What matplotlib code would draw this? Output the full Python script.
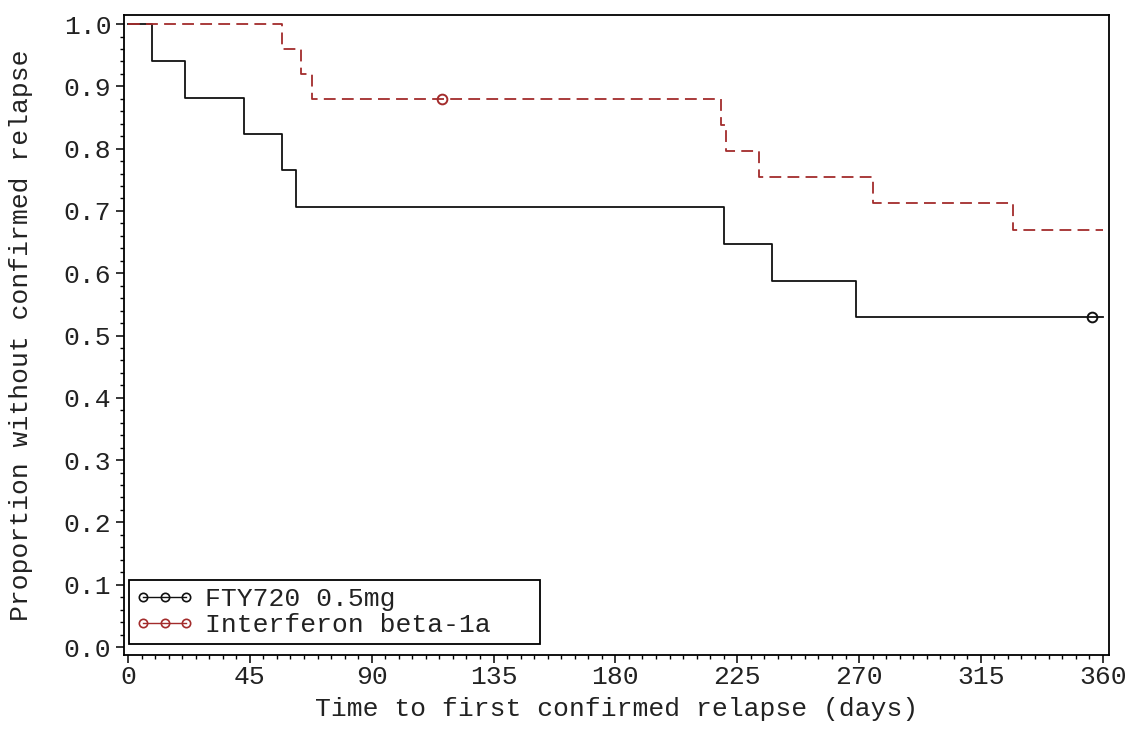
import matplotlib
matplotlib.use("Agg")
import matplotlib.pyplot as plt
from matplotlib.lines import Line2D
from matplotlib.ticker import MultipleLocator, FormatStrFormatter

# Kaplan-Meier steps (days, proportion)
fty_days = [0, 9, 21, 43, 57, 62, 220, 238, 269, 360]
fty_surv = [1.0, 0.941, 0.882, 0.824, 0.765, 0.706, 0.647, 0.588, 0.529, 0.529]
fty_cens_days = [356]
fty_cens_surv = [0.529]

ifn_days = [0, 57, 64, 68, 219, 221, 233, 275, 327, 360]
ifn_surv = [1.0, 0.96, 0.92, 0.88, 0.838, 0.796, 0.754, 0.712, 0.670, 0.670]
ifn_cens_days = [116]
ifn_cens_surv = [0.88]

labels = ["FTY720 0.5mg", "Interferon beta-1a"]
xticks = [0, 45, 90, 135, 180, 225, 270, 315, 360]

plt.rcParams['font.family'] = ['Liberation Mono', 'DejaVu Sans Mono']
plt.rcParams['font.size'] = 19
plt.rcParams['lines.scale_dashes'] = False

black = '#111111'
red = '#a32c2c'
txt = '#222222'

fig = plt.figure(figsize=(11.31, 7.40), dpi=100)
ax = fig.add_axes([0.1096, 0.1149, 0.8709, 0.8652])

ax.step(fty_days, fty_surv, where='post', color=black, lw=1.3)
ax.plot(fty_cens_days, fty_cens_surv, 'o', mfc='none', mec=black, ms=7, mew=1.4)

ax.step(ifn_days, ifn_surv, where='post', color=red, lw=1.3, dashes=(8.5, 4.5))
ax.plot(ifn_cens_days, ifn_cens_surv, 'o', mfc='none', mec=red, ms=7, mew=1.4)

ax.set_xlim(-1.5, 362.3)
ax.set_ylim(-0.0128, 1.015)
ax.set_xticks(xticks)
ax.xaxis.set_minor_locator(MultipleLocator(5))
ax.yaxis.set_major_locator(MultipleLocator(0.1))
ax.yaxis.set_minor_locator(MultipleLocator(0.02))
ax.yaxis.set_major_formatter(FormatStrFormatter('%.1f'))
ax.tick_params(which='major', length=6, width=1.1, direction='out', pad=3,
               labelcolor=txt)
ax.tick_params(which='minor', length=3, width=1.0, direction='out')
ax.tick_params(axis='x', pad=1)
for s in ax.spines.values():
    s.set_linewidth(1.3)

ax.set_xlabel("Time to first confirmed relapse (days)", labelpad=6, color=txt)
ax.set_ylabel("Proportion without confirmed relapse", labelpad=22, color=txt)

handles = [
    Line2D([], [], color=black, lw=1.0, marker='o', mfc='none', mec=black, ms=6, mew=1.2),
    Line2D([], [], color=red, lw=1.0, marker='o', mfc='none', mec=red, ms=6, mew=1.2),
]
leg = ax.legend(handles, labels, loc='lower left', bbox_to_anchor=(0.005, 0.017, 0.417, 0),
                mode='expand', borderaxespad=0, numpoints=3, handlelength=2.2,
                handletextpad=0.45, labelspacing=0.1, borderpad=0.25, fancybox=False,
                edgecolor='black', framealpha=1)
leg.get_frame().set_linewidth(1.3)
for t in leg.get_texts():
    t.set_color(txt)

fig.savefig("out.png", dpi=100)
